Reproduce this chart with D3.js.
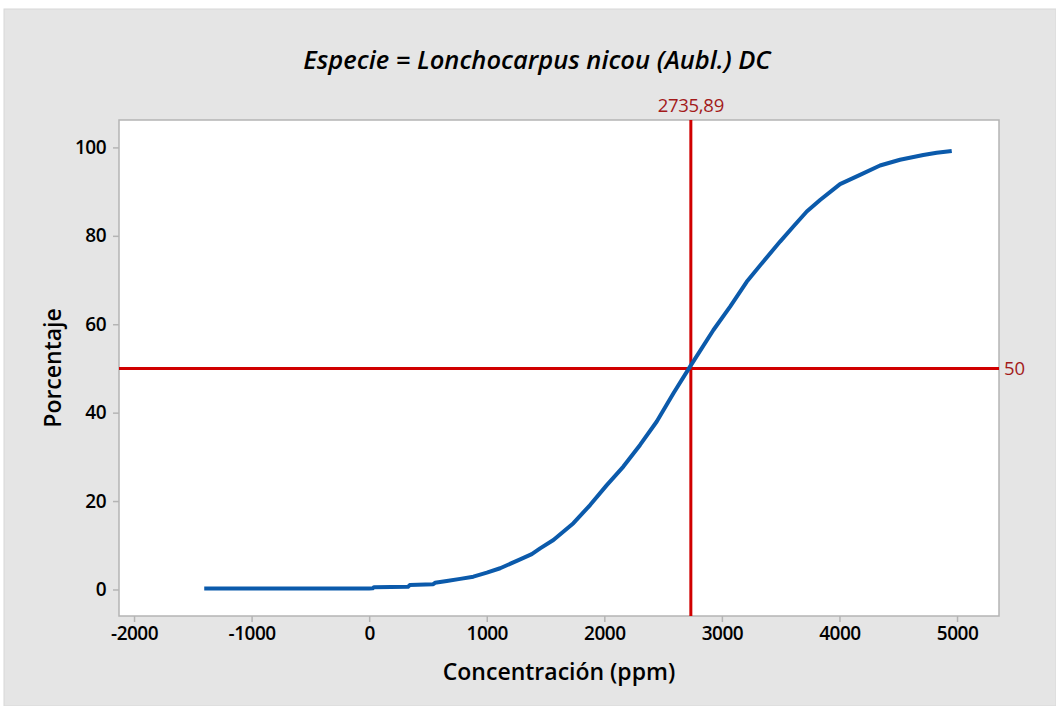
<!DOCTYPE html>
<html>
<head>
<meta charset="utf-8">
<script src="https://cdn.jsdelivr.net/npm/d3@7"></script>
<style>
  html, body { margin: 0; padding: 0; background: #fff; }
  svg text { font-family: "Open Sans", "Noto Sans", sans-serif; }
</style>
</head>
<body>
<div id="chart"></div>
<script>
(function () {

  // values
  var concentracion = [-1403, -600, 0, 30, 40, 330, 345, 545, 560, 660, 774, 886, 1001,
    1114, 1284, 1383, 1454, 1567, 1737, 1879, 2021, 2162, 2304, 2446, 2588, 2729,
    2928, 3070, 3211, 3353, 3495, 3608, 3722, 3835, 4005, 4175, 4345, 4515, 4713, 4827, 4955];
  var porcentaje = [0.2, 0.2, 0.2, 0.25, 0.5, 0.6, 1.0, 1.2, 1.5, 1.9, 2.4, 2.9, 3.8,
    4.8, 6.8, 8.0, 9.3, 11.2, 15.0, 19.1, 23.6, 27.8, 32.7, 38.0, 44.4, 50.4,
    58.7, 64.0, 69.6, 74.2, 78.7, 82.1, 85.5, 88.1, 91.7, 93.8, 95.9, 97.2, 98.3, 98.8, 99.2];
  var xTicks = [-2000, -1000, 0, 1000, 2000, 3000, 4000, 5000];
  var yTicks = [0, 20, 40, 60, 80, 100];
  var refX = 2735.89;
  var refY = 50;
  var titulo = "Especie = Lonchocarpus nicou (Aubl.) DC";

  var width = 1056,
    height = 706,
    left = 119, right = 999, top = 120, bottom = 616;

  var svg = d3.select("#chart").append("svg")
    .attr("width", width)
    .attr("height", height);

  svg.append("rect")
    .attr("x", 4).attr("y", 9)
    .attr("width", width - 4).attr("height", height - 9)
    .attr("fill", "#e5e5e5")
    .attr("stroke", "#d8d8d8");

  var x = d3.scaleLinear().domain([-2128, 5357]).range([left, right]);
  var y = d3.scaleLinear().domain([-6, 106.2]).range([bottom, top]);

  svg.append("rect")
    .attr("x", left).attr("y", top)
    .attr("width", right - left).attr("height", bottom - top)
    .attr("fill", "#fff")
    .attr("stroke", "#b4b4b4")
    .attr("stroke-width", 1.5);

  var xAxis = svg.append("g")
    .attr("transform", "translate(0," + bottom + ")")
    .call(d3.axisBottom(x).tickValues(xTicks).tickSize(6).tickPadding(5).tickFormat(d3.format("d")));
  var yAxis = svg.append("g")
    .attr("transform", "translate(" + left + ",0)")
    .call(d3.axisLeft(y).tickValues(yTicks).tickSize(6).tickPadding(7));

  [xAxis, yAxis].forEach(function (g) {
    g.select(".domain").remove();
    g.selectAll(".tick line").attr("stroke", "#b4b4b4").attr("stroke-width", 1.5);
    g.selectAll(".tick text")
      .attr("fill", "#000")
      .style("font-size", "19px")
      .style("font-weight", 600)
      .style("letter-spacing", "-0.5px");
  });
  xAxis.selectAll(".tick text").text(function (d) { return d < 0 ? "-" + Math.abs(d) : d; });

  var points = concentracion.map(function (c, i) { return [c, porcentaje[i]]; });

  // reference lines
  svg.append("line")
    .attr("x1", left).attr("x2", right)
    .attr("y1", y(refY)).attr("y2", y(refY))
    .attr("stroke", "#d00000").attr("stroke-width", 3);
  svg.append("line")
    .attr("x1", x(refX)).attr("x2", x(refX))
    .attr("y1", top).attr("y2", bottom)
    .attr("stroke", "#d00000").attr("stroke-width", 3);

  svg.append("path")
    .datum(points)
    .attr("fill", "none")
    .attr("stroke", "#0b5aab")
    .attr("stroke-width", 4)
    .attr("stroke-linejoin", "round")
    .attr("d", d3.line().x(function (d) { return x(d[0]); }).y(function (d) { return y(d[1]); }));

  svg.append("text")
    .attr("x", x(refX)).attr("y", top - 8)
    .attr("text-anchor", "middle")
    .attr("fill", "#a31a1a")
    .style("font-size", "18.5px")
    .style("letter-spacing", "-0.3px")
    .text(d3.format(".2f")(refX).replace(".", ","));
  svg.append("text")
    .attr("x", right + 5).attr("y", y(refY))
    .attr("dy", "0.35em")
    .attr("fill", "#a31a1a")
    .style("font-size", "18.5px")
    .text(refY);

  svg.append("text")
    .attr("x", (left + right) / 2 - 22).attr("y", 69)
    .attr("text-anchor", "middle")
    .attr("fill", "#000")
    .style("font-size", "25.5px")
    .style("font-weight", 600)
    .style("font-style", "italic")
    .text(titulo);

  svg.append("text")
    .attr("x", (left + right) / 2).attr("y", 680)
    .attr("text-anchor", "middle")
    .attr("fill", "#000")
    .style("font-size", "23px")
    .style("font-weight", 600)
    .text("Concentración (ppm)");

  svg.append("text")
    .attr("transform", "translate(61," + ((top + bottom) / 2) + ") rotate(-90)")
    .attr("text-anchor", "middle")
    .attr("fill", "#000")
    .style("font-size", "23px")
    .style("font-weight", 600)
    .text("Porcentaje");

}());
</script>
</body>
</html>
